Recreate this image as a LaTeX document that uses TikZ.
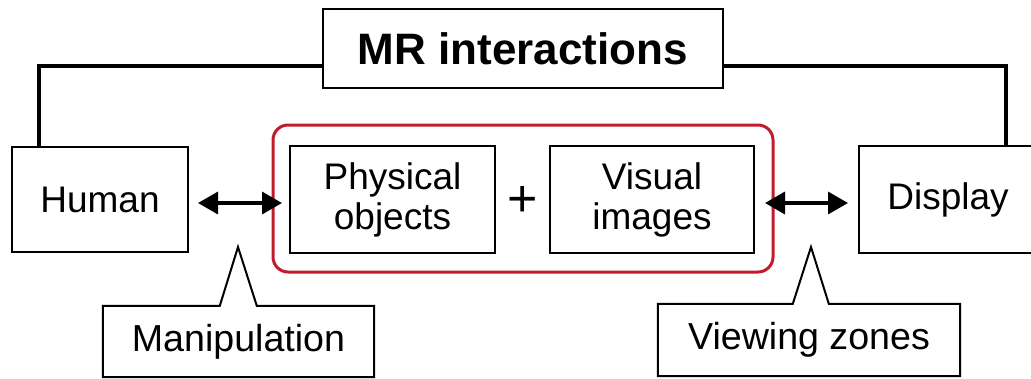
\documentclass[tikz,border=0pt]{standalone}
\usepackage{fontspec}
\setmainfont{Liberation Sans}
\usetikzlibrary{arrows.meta,calc}
\definecolor{mrred}{RGB}{192,28,44}
\begin{document}
\begin{tikzpicture}[x=1pt,y=-1pt,
  box/.style={draw=black,line width=2pt,fill=white,inner sep=0pt,align=center,
    font=\fontsize{37}{40}\selectfont},
  link/.style={draw=black,line width=3.5pt},
  biarrow/.style={line width=3.5pt,{Triangle[length=20pt,width=22pt]}-{Triangle[length=20pt,width=22pt]}},
  group/.style={draw=mrred,line width=3pt,rounded corners=15pt},
  tag/.style={inner sep=0pt,align=center,font=\fontsize{37.6}{40}\selectfont}
]
\useasboundingbox (0,0) rectangle (1031,378);

% red frame around the two mixed elements
\node[group,minimum width=500pt,minimum height=147pt] (mix) at (523,198.5) {};

% main boxes
\node[box,minimum width=400pt,minimum height=79pt,
  font=\fontsize{44}{48}\selectfont\bfseries] (title) at (523,48.5) {MR interactions};
\node[box,minimum width=176pt,minimum height=105pt] (human) at (100,199.5) {Human};
\node[box,minimum width=205pt,minimum height=107pt] (phys) at (392.5,199.5) {Physical\\objects};
\node[box,minimum width=204pt,minimum height=107pt] (vis) at (652,199.5) {Visual\\images};
\node[box,minimum width=178pt,minimum height=107pt] (display) at (948,199.5) {Display};
\node[font=\fontsize{52}{52}\selectfont,inner sep=0pt] (plus) at (523,201) {+};

% elbow connectors from the title
\draw[link] ($(title.west)+(0,17.5)$) -| ($(human.north west)+(28,0)$);
\draw[link] ($(title.east)+(0,17.5)$) -| ($(display.north west)+(148,0)$);

% two-way arrows
\draw[biarrow] ($(human.east)+(9,3.5)$) -- ($(phys.west)+(-7,3.5)$);
\draw[biarrow] ($(vis.east)+(10,3.5)$) -- ($(display.west)+(-10,3.5)$);

% callout labels
\node[tag,minimum width=271pt,minimum height=71pt] (manip) at (238.5,341.5) {Manipulation};
\coordinate (manipTip) at (238,247);
\draw[line width=2pt,line join=miter] (manip.north west) -- ($(manip.north west)+(117,0)$)
  -- (manipTip) -- ($(manip.north west)+(154,0)$) -- (manip.north east)
  -- (manip.south east) -- (manip.south west) -- cycle;

\node[tag,minimum width=302pt,minimum height=72pt] (view) at (809,340) {Viewing zones};
\coordinate (viewTip) at (811,247);
\draw[line width=2pt,line join=miter] (view.north west) -- ($(view.north west)+(135,0)$)
  -- (viewTip) -- ($(view.north west)+(171,0)$) -- (view.north east)
  -- (view.south east) -- (view.south west) -- cycle;
\end{tikzpicture}
\end{document}
